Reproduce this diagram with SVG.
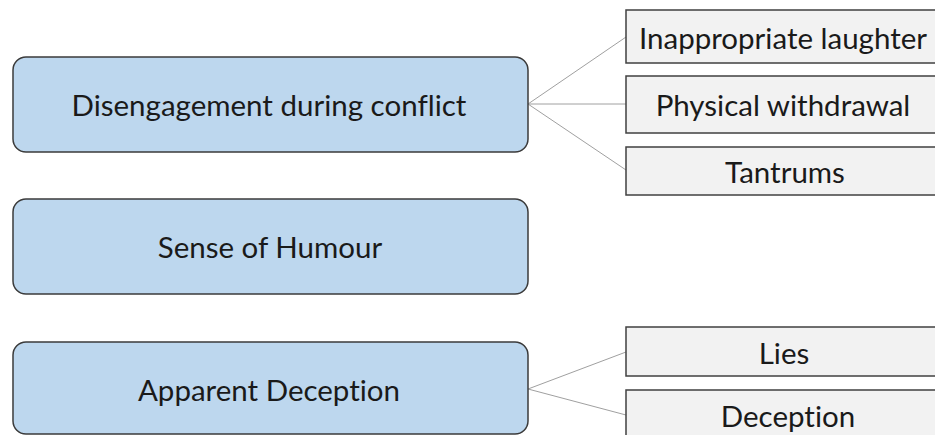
<svg xmlns="http://www.w3.org/2000/svg" width="935" height="435" viewBox="0 0 935 435">
<style>
.main{fill:#bdd7ee;stroke:#3b3b3b;stroke-width:1.5}
.sub{fill:#f2f2f2;stroke:#404040;stroke-width:1.5}
.t{font-family:Lato,"Open Sans",sans-serif;font-size:29.5px;fill:#1a1a1a;text-anchor:middle;dominant-baseline:central;font-variant-ligatures:none}
.c{stroke:#a0a0a0;stroke-width:1;fill:none}
</style>
<rect width="935" height="435" fill="#ffffff"/>
<g id="connectors">
<line class="c" x1="528" y1="104" x2="626" y2="37"/>
<line class="c" x1="528" y1="104" x2="626" y2="104"/>
<line class="c" x1="528" y1="104" x2="626" y2="170"/>
<line class="c" x1="528" y1="389" x2="626" y2="352"/>
<line class="c" x1="528" y1="389" x2="626" y2="415"/>
</g>
<g id="disengagement">
<rect class="main" x="13" y="57" width="515" height="95" rx="13"/>
<text class="t" x="269" y="104">Disengagement during conflict</text>
</g>
<g id="humour">
<rect class="main" x="13" y="199" width="515" height="95" rx="13"/>
<text class="t" x="270" y="246">Sense of Humour</text>
</g>
<g id="deception-main">
<rect class="main" x="13" y="342" width="515" height="92" rx="13"/>
<text class="t" x="269" y="389">Apparent Deception</text>
</g>
<g id="laughter">
<rect class="sub" x="626" y="10" width="320" height="53"/>
<text class="t" x="783" y="37">Inappropriate laughter</text>
</g>
<g id="withdrawal">
<rect class="sub" x="626" y="76" width="320" height="57"/>
<text class="t" x="783" y="104">Physical withdrawal</text>
</g>
<g id="tantrums">
<rect class="sub" x="626" y="147" width="320" height="48"/>
<text class="t" x="785" y="171">Tantrums</text>
</g>
<g id="lies">
<rect class="sub" x="626" y="327" width="320" height="49"/>
<text class="t" x="784" y="352">Lies</text>
</g>
<g id="deception">
<rect class="sub" x="626" y="390" width="320" height="60"/>
<text class="t" x="788" y="415">Deception</text>
</g>
</svg>
